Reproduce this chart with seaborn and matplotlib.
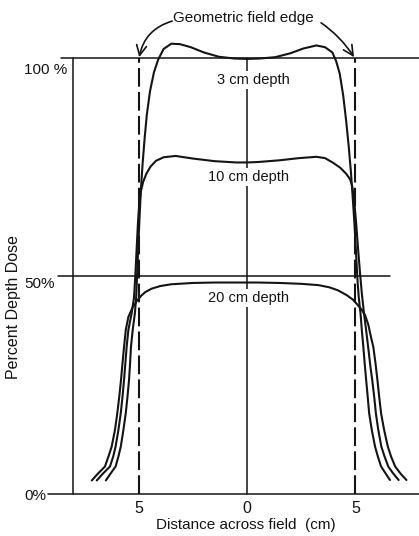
import matplotlib
matplotlib.use("Agg")
import matplotlib.pyplot as plt
import matplotlib.transforms as mtransforms
import pandas as pd
import seaborn as sns

# dose profiles (x in cm, dose in %)
x_3cm = [-6.52, -6.3, -6.07, -5.94, -5.83, -5.71, -5.6, -5.52, -5.45, -5.4, -5.36, -5.28, -5.18,
         -5.12, -5.08, -5.03, -4.97, -4.9, -4.82, -4.74, -4.63, -4.48, -4.3, -4.1, -3.85, -3.5,
         -3.1, -2.6, -2.0, -1.3, -0.6, 0.0, 0.6, 1.3, 2.0, 2.6, 3.2, 3.6, 3.94, 4.12, 4.28, 4.44,
         4.58, 4.7, 4.8, 4.88, 4.96, 5.03, 5.1, 5.16, 5.24, 5.3, 5.37, 5.43, 5.5, 5.57, 5.64,
         5.76, 5.91, 6.04, 6.19, 6.4, 6.6]
dose_3cm = [3.0, 4.6, 6.2, 8.5, 10.8, 14.6, 18.5, 22.3, 26.1, 30, 33.7, 37.6, 41.4,
            45, 50, 56, 63, 70, 76, 81, 87, 92.5, 96.8, 99.8, 102.2, 103.4,
            103.3, 102.6, 101.4, 100.4, 100, 99.9, 100, 100.3, 101.2, 102.3, 103.0, 102.6, 101.4, 99.3, 96.5, 91.5,
            85.5, 79.5, 73.7, 68, 62, 55.5, 49, 45, 41.4, 37.5, 33.7, 30, 26.1, 22.3, 18.4,
            14.6, 10.8, 8.5, 6.2, 4.6, 3.1]

x_10cm = [-6.94, -6.65, -6.33, -6.18, -6.07, -5.94, -5.83, -5.75, -5.68, -5.56, -5.48, -5.33, -5.22,
          -5.16, -5.1, -5.04, -4.98, -4.9, -4.8, -4.65, -4.45, -4.2, -3.85, -3.3, -2.5, -1.5,
          -0.5, 0.0, 0.5, 1.5, 2.4, 3.2, 3.6, 3.95, 4.3, 4.58, 4.76, 4.86, 4.95, 5.04, 5.13,
          5.22, 5.3, 5.4, 5.5, 5.62, 5.7, 5.78, 5.87, 5.95, 6.06, 6.2, 6.35, 6.52, 6.75, 7.0]
dose_10cm = [3.0, 4.6, 6.2, 8.5, 10.8, 14.6, 18.5, 22.3, 26.1, 33.7, 37.6, 41.4, 45,
             50, 56, 62, 66.5, 69.5, 71.6, 73.5, 75.2, 76.5, 77.3, 77.6, 77.0, 76.4,
             76.1, 76.1, 76.2, 76.6, 77.1, 77.4, 77.1, 76.1, 74.9, 73.5, 72.2, 70.6, 67, 62, 56,
             50.5, 46, 41.4, 37.5, 32.5, 29, 26.1, 22.3, 18.4, 14.6, 10.8, 8.5, 6.2, 4.6, 3.1]

x_20cm = [-7.17, -6.9, -6.56, -6.4, -6.25, -6.1, -5.99, -5.9, -5.82, -5.75, -5.68, -5.6, -5.48,
          -5.3, -5.1, -4.9, -4.7, -4.4, -4.0, -3.5, -2.5, -1.5, -0.5, 0.5, 1.5, 2.5, 3.3, 3.8,
          4.2, 4.6, 4.88, 5.1, 5.3, 5.45, 5.6, 5.72, 5.83, 5.93, 6.02, 6.1, 6.19, 6.33, 6.5,
          6.65, 6.84, 7.1, 7.36]
dose_20cm = [3.0, 4.5, 6.2, 8.5, 10.8, 14.6, 18.5, 22.3, 26.1, 30, 33.7, 37.6, 40.6,
             42.6, 44.2, 45.4, 46.3, 47.1, 47.7, 48.1, 48.4, 48.5, 48.5, 48.5, 48.4, 48.2, 47.9, 47.4,
             46.7, 45.6, 44.6, 43.4, 42.2, 41.0, 38.8, 36, 33.7, 30, 26.1, 22.3, 18.4, 14.6, 10.8,
             8.5, 6.2, 4.5, 3.1]

depth_labels = ["3 cm depth", "10 cm depth", "20 cm depth"]
label_y = [95.1, 72.8, 44.9]
y_ticks = [0, 50, 100]
y_ticklabels = ["0%", "50%", "100 %"]
x_ticks = [-5, 0, 5]
x_ticklabels = ["5", "0", "5"]
field_edge = 5

df = pd.concat([
    pd.DataFrame({"x": x_3cm, "dose": dose_3cm, "depth": depth_labels[0]}),
    pd.DataFrame({"x": x_10cm, "dose": dose_10cm, "depth": depth_labels[1]}),
    pd.DataFrame({"x": x_20cm, "dose": dose_20cm, "depth": depth_labels[2]}),
])

sns.set_theme(style="white")
plt.rcParams["font.family"] = ["Liberation Sans", "DejaVu Sans"]
INK = "#141414"

fig = plt.figure(figsize=(4.19, 5.36), dpi=100)
ax = fig.add_axes([72.5 / 419, 42.5 / 536, 346.5 / 419, 435 / 536])
ax.set_xlim(-8.06, 7.94)
ax.set_ylim(0, 100)
for s in ax.spines.values():
    s.set_visible(False)

# frame lines (drawn past the axes like in the book figure)
kw = dict(color=INK, lw=1.1, clip_on=False, zorder=1)
ax.plot([-8.06, -8.06], [0, 100], **kw)
ax.plot([-8.6, 8.3], [100, 100], **kw)
ax.plot([-8.75, 6.6], [50, 50], **kw)
ax.plot([-9.2, 8.3], [0, 0], **kw)
ax.plot([0, 0], [0, 100], **kw)
for xe in (-field_edge, field_edge):
    ax.plot([xe, xe], [0, 100], color=INK, lw=1.5, dashes=(9, 2.5), clip_on=False, zorder=1)

sns.lineplot(data=df, x="x", y="dose", units="depth", estimator=None, sort=True,
             color=INK, lw=1.5, ax=ax, zorder=3)
for ln in ax.lines:
    ln.set_clip_on(False)

for lab, yy, xx in zip(depth_labels, label_y, [0.3, 0.05, 0.05]):
    ax.text(xx, yy, lab, ha="center", va="center", fontsize=10.5, color=INK, zorder=2,
            bbox=dict(facecolor="white", edgecolor="none", pad=1.5))

# "Geometric field edge" with its two arrows
ax.text(-0.18, 109.3, "Geometric field edge", ha="center", va="center", fontsize=11, color=INK)
arrow = dict(arrowstyle="->,head_length=0.6,head_width=0.3", color=INK, lw=1.2, shrinkA=0, shrinkB=0)
ax.annotate("", xy=(-4.98, 100.3), xytext=(-3.46, 108.6), annotation_clip=False,
            arrowprops=dict(arrow, connectionstyle="arc3,rad=0.3"))
ax.annotate("", xy=(4.94, 100.3), xytext=(3.42, 108.2), annotation_clip=False,
            arrowprops=dict(arrow, connectionstyle="arc3,rad=-0.1"))

ax.set_xticks(x_ticks, x_ticklabels)
ax.set_yticks(y_ticks, y_ticklabels)
ax.tick_params(axis="x", length=0, pad=5.5, labelsize=11.5, labelcolor=INK)
ax.tick_params(axis="y", length=0, pad=34.9, labelsize=11, labelcolor=INK)
for lab, dy in zip(ax.get_yticklabels(), [-1, -5, -7.5]):
    lab.set_horizontalalignment("left")
    lab.set_transform(lab.get_transform() + mtransforms.ScaledTranslation(0, dy / 72, fig.dpi_scale_trans))

ax.set_xlabel("Distance across field  (cm)", fontsize=11, color=INK)
ax.xaxis.set_label_coords(0.50, -0.057)
ax.set_ylabel("Percent Depth Dose", fontsize=11.5, color=INK)
ax.yaxis.set_label_coords(-0.149, 0.429)

fig.savefig("out.png", dpi=100)
